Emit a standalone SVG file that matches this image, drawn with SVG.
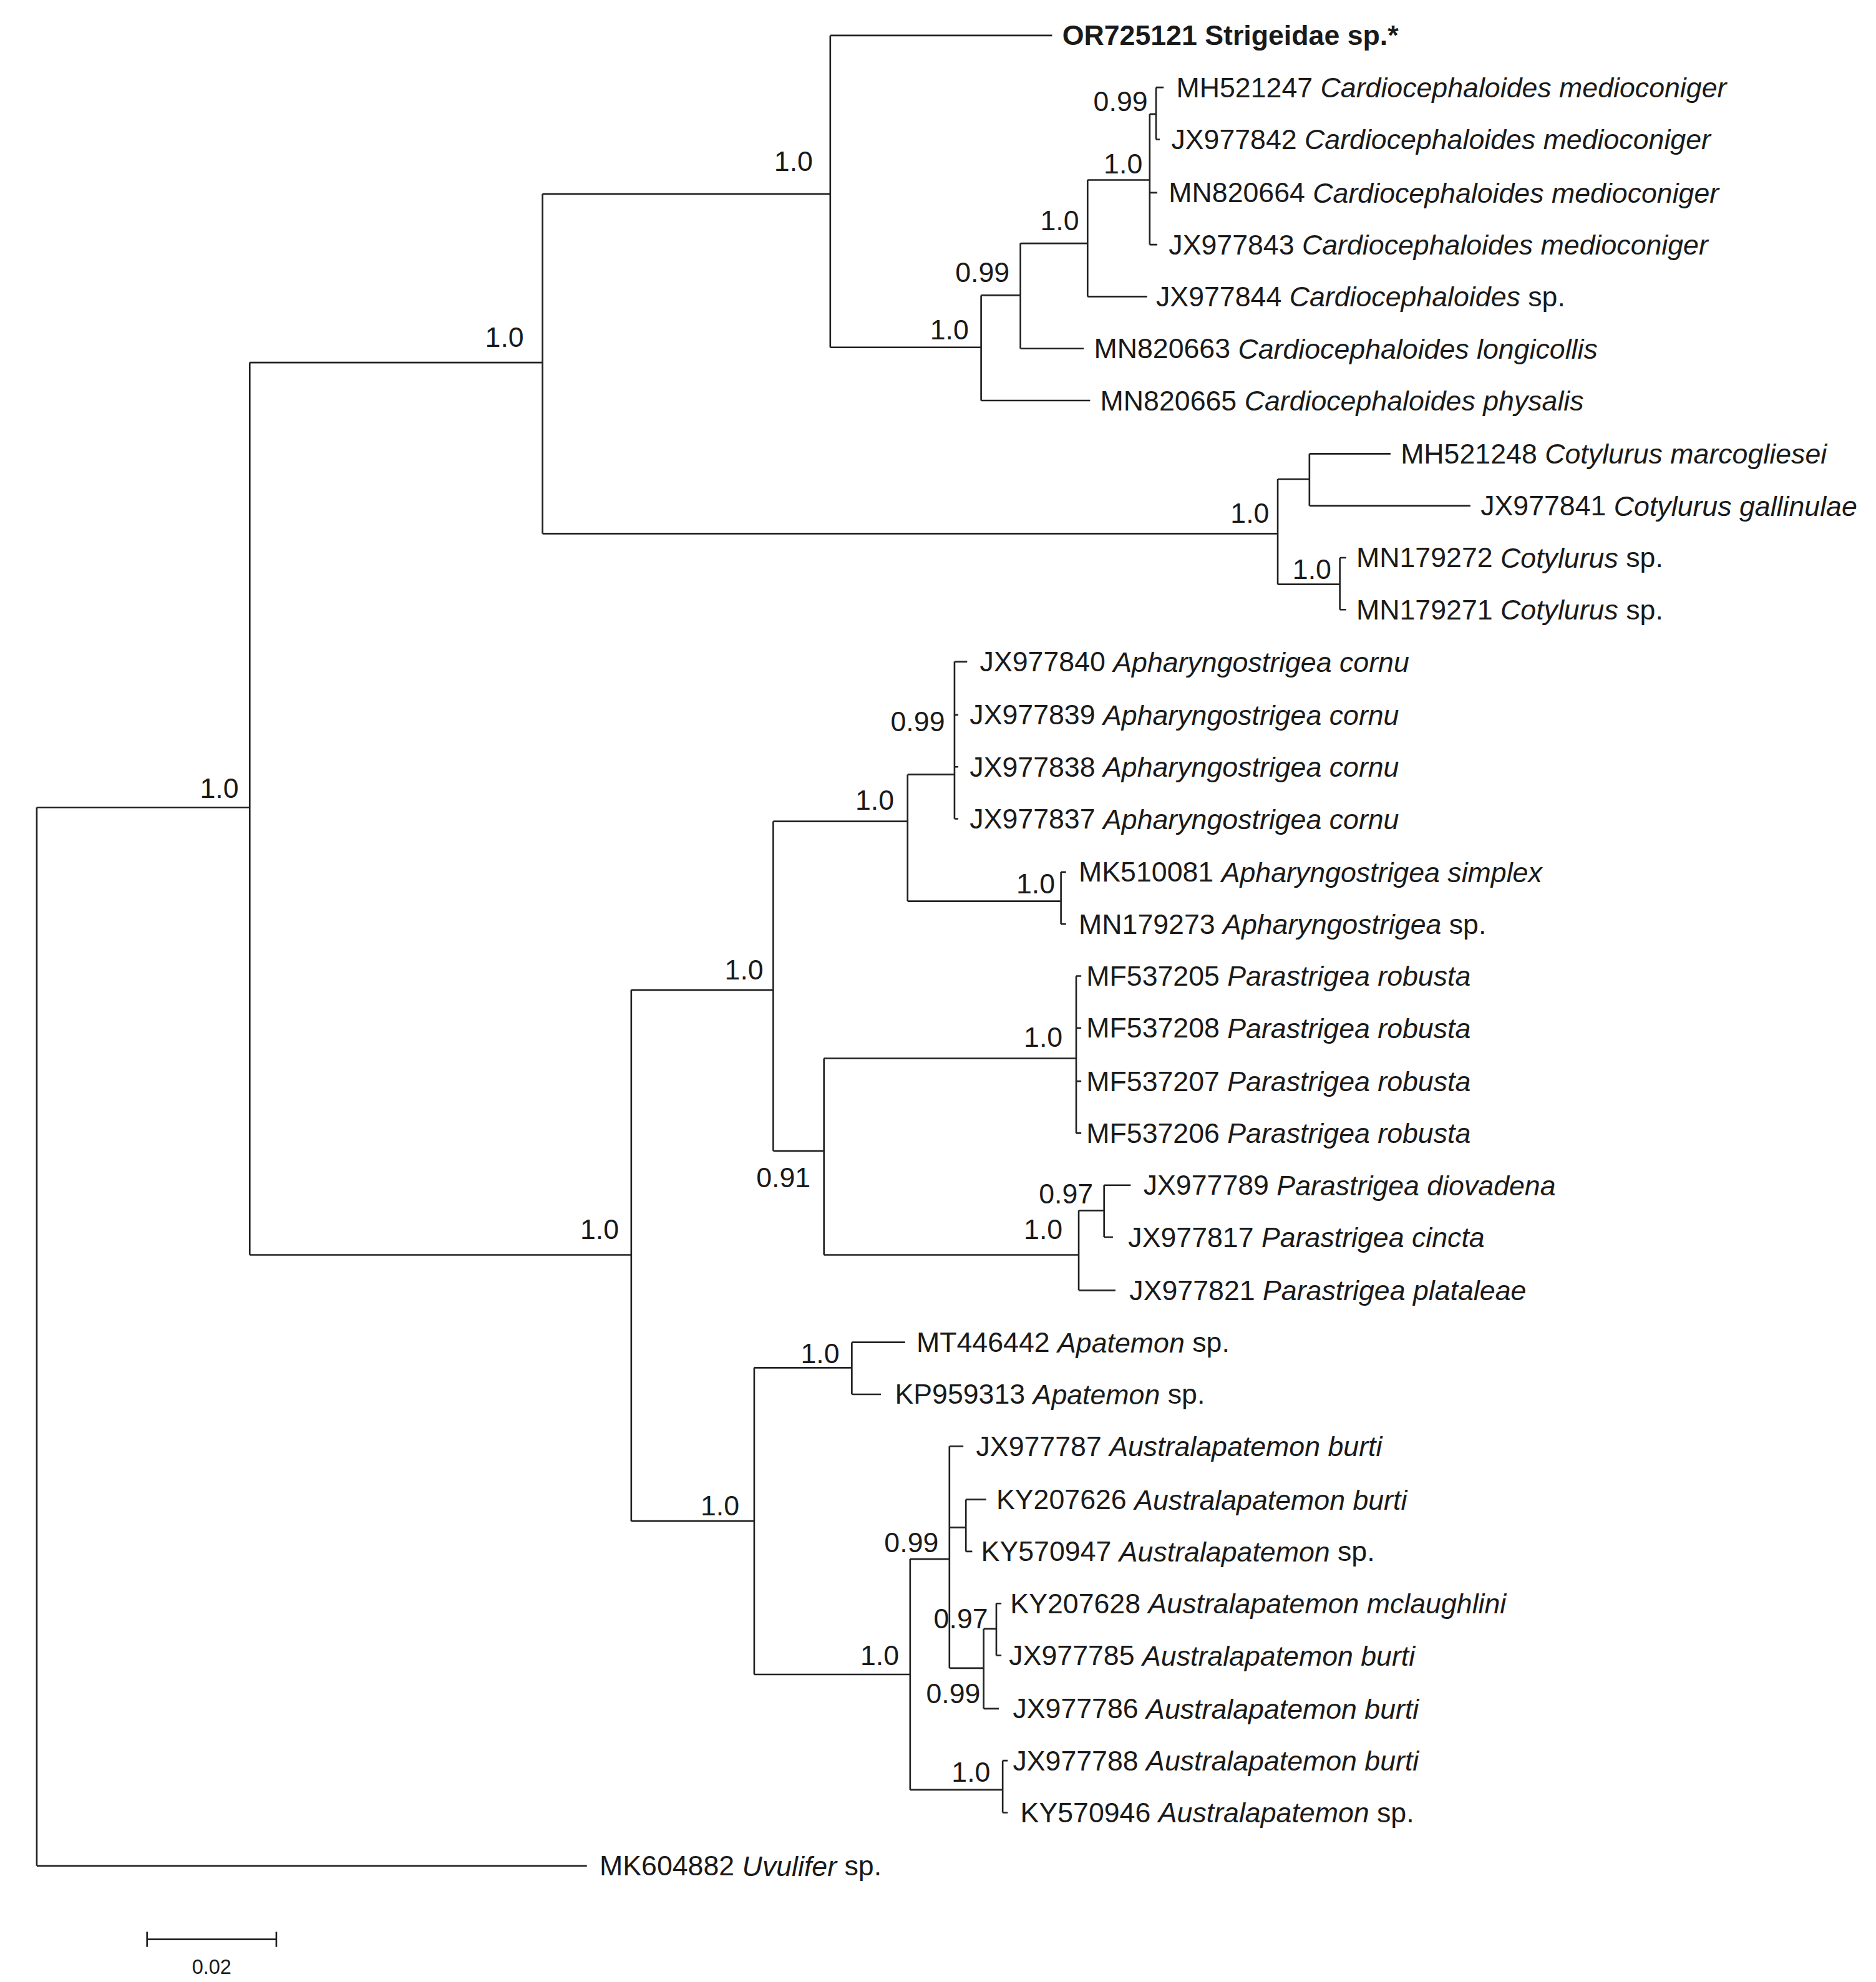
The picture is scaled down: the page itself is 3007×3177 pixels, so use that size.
<svg xmlns="http://www.w3.org/2000/svg" width="3007" height="3177" viewBox="0 0 3007 3177">
<style>
.e{fill:none;stroke:#222;stroke-width:1.3}
text{font-family:"Liberation Sans",Arial,sans-serif;font-size:22px;fill:#1a1a1a}
.s{text-anchor:middle}
.l{dominant-baseline:central}
</style>
<rect width="3007" height="3177" fill="#fff"/>
<g transform="scale(2.0318)">
<g id="connectors" class="e">
<path d="M29,637V1472M29,637H197M29,1472H463"/>
<path d="M197,286V990M197,286H428M197,990H498"/>
<path d="M428,153V421M428,153H655M428,421H1008"/>
<path d="M655,28V274M655,28H830M655,274H774"/>
<path d="M774,233V316M774,233H805M774,316H860"/>
<path d="M805,192V275M805,192H858M805,275H855"/>
<path d="M858,142V234M858,142H907M858,234H905"/>
<path d="M907,90V193M907,90H912M907,152H913M907,193H913"/>
<path d="M912,69V110M912,69H918M912,110H915"/>
<path d="M1008,378V461M1008,378H1033M1008,461H1057"/>
<path d="M1033,358V399M1033,358H1097M1033,399H1160"/>
<path d="M1057,440V481M1057,440H1062M1057,481H1062"/>
<path d="M498,781V1200M498,781H610M498,1200H595"/>
<path d="M610,648V908M610,648H716M610,908H650"/>
<path d="M716,611V711M716,611H753M716,711H837"/>
<path d="M753,522V646M753,522H763M753,564H756M753,605H756M753,646H756"/>
<path d="M837,688V729M837,688H841M837,729H841"/>
<path d="M650,835V990M650,835H849M650,990H851"/>
<path d="M849,770V894M849,770H853M849,811H853M849,853H853M849,894H853"/>
<path d="M851,955V1018M851,955H871M851,1018H880"/>
<path d="M871,935V976M871,935H892M871,976H878"/>
<path d="M595,1079V1321M595,1079H672M595,1321H718"/>
<path d="M672,1059V1100M672,1059H714M672,1100H695"/>
<path d="M718,1230V1412M718,1230H749M718,1412H791"/>
<path d="M749,1141V1316M749,1141H760M749,1205H762M749,1316H776"/>
<path d="M762,1183V1224M762,1183H778M762,1224H767"/>
<path d="M776,1285V1348M776,1285H786M776,1348H788"/>
<path d="M786,1265V1306M786,1265H790M786,1306H790"/>
<path d="M791,1389V1430M791,1389H795M791,1430H795"/>
<path d="M116,1530H218M116,1524V1536M218,1524V1536"/>
</g>
<g id="leaves" class="l">
<text x="838" y="28" font-weight="bold">OR725121 Strigeidae sp.*</text>
<text x="928" y="69">MH521247 <tspan font-style="italic">Cardiocephaloides medioconiger</tspan></text>
<text x="924" y="110">JX977842 <tspan font-style="italic">Cardiocephaloides medioconiger</tspan></text>
<text x="922" y="152">MN820664 <tspan font-style="italic">Cardiocephaloides medioconiger</tspan></text>
<text x="922" y="193">JX977843 <tspan font-style="italic">Cardiocephaloides medioconiger</tspan></text>
<text x="912" y="234">JX977844 <tspan font-style="italic">Cardiocephaloides</tspan> sp.</text>
<text x="863" y="275">MN820663 <tspan font-style="italic">Cardiocephaloides longicollis</tspan></text>
<text x="868" y="316">MN820665 <tspan font-style="italic">Cardiocephaloides physalis</tspan></text>
<text x="1105" y="358">MH521248 <tspan font-style="italic">Cotylurus marcogliesei</tspan></text>
<text x="1168" y="399">JX977841 <tspan font-style="italic">Cotylurus gallinulae</tspan></text>
<text x="1070" y="440">MN179272 <tspan font-style="italic">Cotylurus</tspan> sp.</text>
<text x="1070" y="481">MN179271 <tspan font-style="italic">Cotylurus</tspan> sp.</text>
<text x="773" y="522">JX977840 <tspan font-style="italic">Apharyngostrigea cornu</tspan></text>
<text x="765" y="564">JX977839 <tspan font-style="italic">Apharyngostrigea cornu</tspan></text>
<text x="765" y="605">JX977838 <tspan font-style="italic">Apharyngostrigea cornu</tspan></text>
<text x="765" y="646">JX977837 <tspan font-style="italic">Apharyngostrigea cornu</tspan></text>
<text x="851" y="688">MK510081 <tspan font-style="italic">Apharyngostrigea simplex</tspan></text>
<text x="851" y="729">MN179273 <tspan font-style="italic">Apharyngostrigea</tspan> sp.</text>
<text x="857" y="770">MF537205 <tspan font-style="italic">Parastrigea robusta</tspan></text>
<text x="857" y="811">MF537208 <tspan font-style="italic">Parastrigea robusta</tspan></text>
<text x="857" y="853">MF537207 <tspan font-style="italic">Parastrigea robusta</tspan></text>
<text x="857" y="894">MF537206 <tspan font-style="italic">Parastrigea robusta</tspan></text>
<text x="902" y="935">JX977789 <tspan font-style="italic">Parastrigea diovadena</tspan></text>
<text x="890" y="976">JX977817 <tspan font-style="italic">Parastrigea cincta</tspan></text>
<text x="891" y="1018">JX977821 <tspan font-style="italic">Parastrigea plataleae</tspan></text>
<text x="723" y="1059">MT446442 <tspan font-style="italic">Apatemon</tspan> sp.</text>
<text x="706" y="1100">KP959313 <tspan font-style="italic">Apatemon</tspan> sp.</text>
<text x="770" y="1141">JX977787 <tspan font-style="italic">Australapatemon burti</tspan></text>
<text x="786" y="1183">KY207626 <tspan font-style="italic">Australapatemon burti</tspan></text>
<text x="774" y="1224">KY570947 <tspan font-style="italic">Australapatemon</tspan> sp.</text>
<text x="797" y="1265">KY207628 <tspan font-style="italic">Australapatemon mclaughlini</tspan></text>
<text x="796" y="1306">JX977785 <tspan font-style="italic">Australapatemon burti</tspan></text>
<text x="799" y="1348">JX977786 <tspan font-style="italic">Australapatemon burti</tspan></text>
<text x="799" y="1389">JX977788 <tspan font-style="italic">Australapatemon burti</tspan></text>
<text x="805" y="1430">KY570946 <tspan font-style="italic">Australapatemon</tspan> sp.</text>
<text x="473" y="1472">MK604882 <tspan font-style="italic">Uvulifer</tspan> sp.</text>
</g>
<g id="support" class="s l">
<text x="173" y="622">1.0</text>
<text x="398" y="266">1.0</text>
<text x="626" y="127">1.0</text>
<text x="884" y="80">0.99</text>
<text x="886" y="129">1.0</text>
<text x="836" y="174">1.0</text>
<text x="775" y="215">0.99</text>
<text x="749" y="260">1.0</text>
<text x="986" y="405">1.0</text>
<text x="1035" y="449">1.0</text>
<text x="473" y="970">1.0</text>
<text x="587" y="765">1.0</text>
<text x="690" y="631">1.0</text>
<text x="724" y="569">0.99</text>
<text x="817" y="697">1.0</text>
<text x="823" y="818">1.0</text>
<text x="618" y="929">0.91</text>
<text x="841" y="942">0.97</text>
<text x="823" y="970">1.0</text>
<text x="568" y="1188">1.0</text>
<text x="647" y="1068">1.0</text>
<text x="719" y="1217">0.99</text>
<text x="758" y="1277">0.97</text>
<text x="752" y="1336">0.99</text>
<text x="694" y="1306">1.0</text>
<text x="766" y="1398">1.0</text>
<text x="167" y="1552" style="font-size:16px">0.02</text>
</g>
</g>
</svg>
